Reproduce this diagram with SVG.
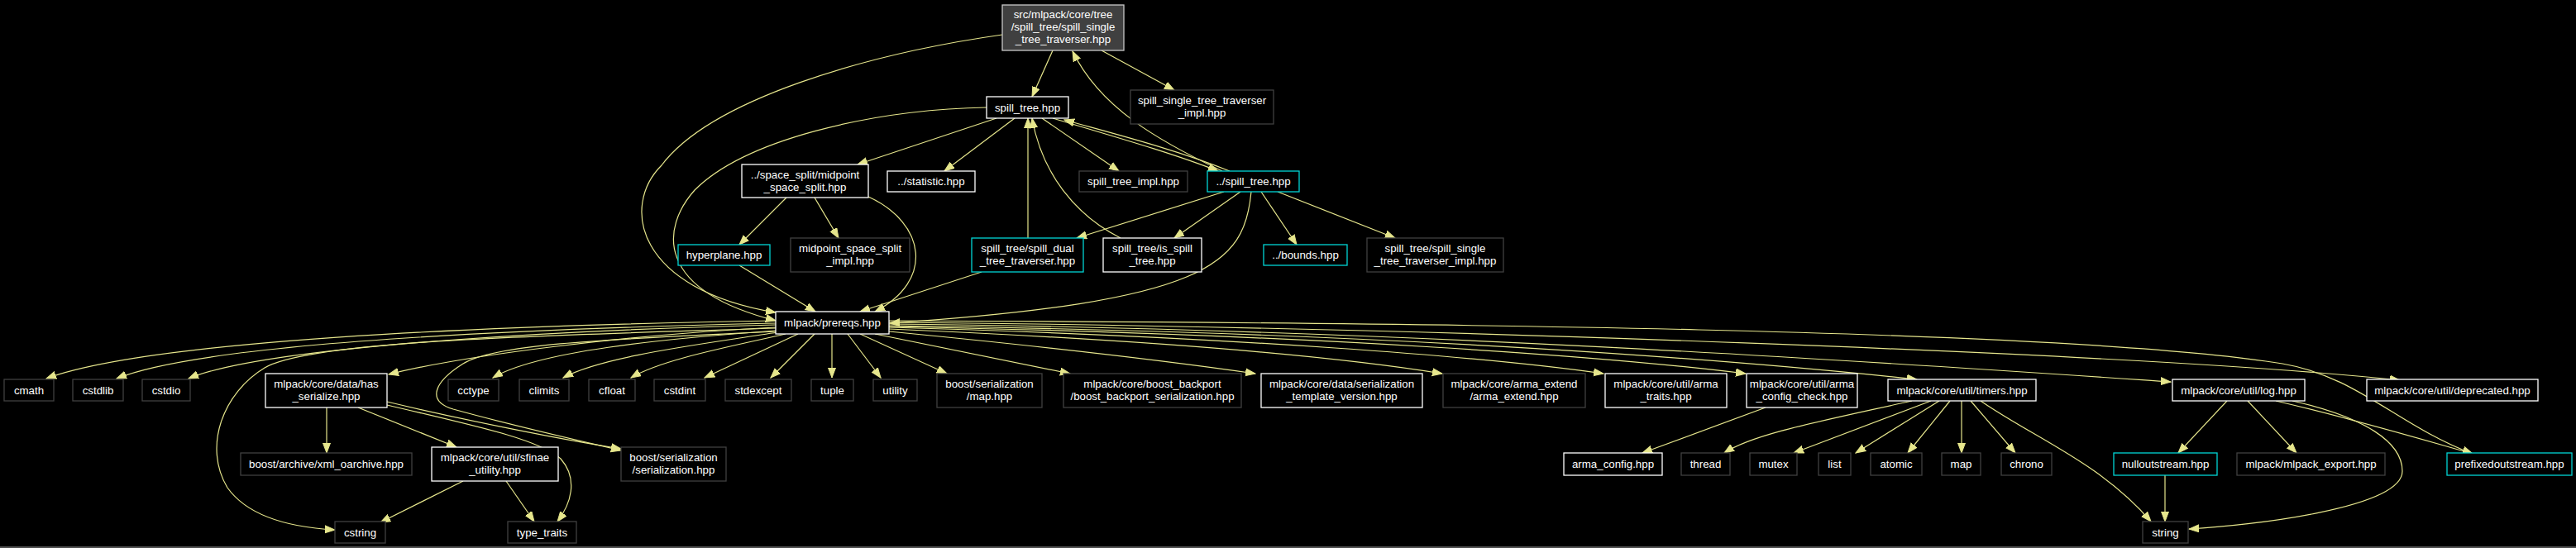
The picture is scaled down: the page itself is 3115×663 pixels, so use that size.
<svg xmlns="http://www.w3.org/2000/svg" width="3115" height="663" viewBox="0 0 3115 663">
<style>
  .bg{fill:#000}
  rect.d{fill:#000;stroke:#ffffff;stroke-width:1.3}
  rect.x{fill:#000;stroke:#404040;stroke-width:1.3}
  rect.c{fill:#000;stroke:#00d4d4;stroke-width:1.3}
  rect.r{fill:#404040;stroke:#c8c8c8;stroke-width:1.3}
  text{font-family:"Liberation Sans",Arial,Helvetica,sans-serif;font-size:13.3px;fill:#fff;text-anchor:middle}
  #edges path{fill:none;stroke:#e6e68c;stroke-width:1.2;marker-end:url(#ah)}
</style>
<defs>
  <marker id="ah" markerWidth="13" markerHeight="11" refX="12" refY="5" orient="auto" markerUnits="userSpaceOnUse">
    <path d="M0,0.5 L12,5 L0,9.5 z" fill="#e6e68c" stroke="#e6e68c" stroke-width="1"/>
  </marker>
</defs>
<rect class="bg" x="0" y="0" width="3115" height="663"/>
<rect x="0" y="661" width="3115" height="2" fill="#505050"/>

<g id="edges">
  <path d="M1273,61 L1248,117"/>
  <path d="M1332,61 L1420,109"/>
  <path d="M1212,42 C1050,65 860,120 800,200 C750,250 770,350 938,378"/>
  <path d="M1193,130 C1050,133 900,170 840,230 C800,275 790,350 938,388"/>
  <path d="M1205,143 L1037,199"/>
  <path d="M1227,143 L1142,207"/>
  <path d="M1260,143 L1353,207"/>
  <path d="M1273,143 C1350,166 1420,186 1473,207"/>
  <path d="M1487,207 C1420,180 1340,160 1287,145"/>
  <path d="M1478,207 C1400,170 1330,130 1297,62"/>
  <path d="M1243,288 L1243,143"/>
  <path d="M1355,288 C1300,260 1260,210 1248,143"/>
  <path d="M1480,232 L1302,288"/>
  <path d="M1500,232 L1420,288"/>
  <path d="M1525,232 L1568,296"/>
  <path d="M1545,232 L1687,288"/>
  <path d="M1513,232 C1505,320 1460,365 1076,391"/>
  <path d="M951,239 L894,296"/>
  <path d="M985,239 L1014,288"/>
  <path d="M1050,238 C1120,270 1130,340 1058,377"/>
  <path d="M894,321 L986,377"/>
  <path d="M1187,329 L1040,377"/>
  <path d="M938,388 C700,392 200,405 56,458"/>
  <path d="M938,391 C720,396 260,410 141,458"/>
  <path d="M938,393 C740,398 330,415 228,458"/>
  <path d="M938,396 C760,405 560,430 470,453"/>
  <path d="M938,397 C700,405 380,410 320,445 C270,475 245,540 275,590 C300,625 350,638 405,641"/>
  <path d="M938,400 C800,410 650,425 596,457"/>
  <path d="M938,401 C750,410 600,415 560,440 C525,462 515,485 548,495 C620,515 700,533 751,545"/>
  <path d="M940,402 C860,415 730,430 681,457"/>
  <path d="M950,404 C880,420 800,435 763,457"/>
  <path d="M965,404 L852,457"/>
  <path d="M985,404 L932,457"/>
  <path d="M1006,404 L1006,457"/>
  <path d="M1025,404 L1065,457"/>
  <path d="M1040,404 L1145,452"/>
  <path d="M1058,404 L1294,452"/>
  <path d="M1075,401 C1250,418 1400,435 1518,452"/>
  <path d="M1075,398 C1400,412 1620,432 1744,452"/>
  <path d="M1075,396 C1500,408 1800,432 1939,452"/>
  <path d="M1075,395 C1600,405 1950,432 2111,452"/>
  <path d="M1075,394 C1700,402 2120,438 2318,459"/>
  <path d="M1075,392 C1700,398 2300,440 2625,462"/>
  <path d="M1075,390 C1700,395 2600,428 2902,460"/>
  <path d="M1075,388 C1700,390 2500,398 2760,440 C2850,455 2900,515 2990,549"/>
  <path d="M395,493 L395,548"/>
  <path d="M433,493 L552,541"/>
  <path d="M468,486 C560,508 680,532 751,543"/>
  <path d="M468,490 C560,512 650,530 678,555 C700,580 690,610 674,631"/>
  <path d="M560,582 L460,632"/>
  <path d="M612,582 L646,631"/>
  <path d="M2135,493 L1986,548"/>
  <path d="M2312,485 C2200,510 2120,525 2085,548"/>
  <path d="M2335,485 L2169,548"/>
  <path d="M2345,485 L2244,548"/>
  <path d="M2358,485 L2307,548"/>
  <path d="M2372,485 L2372,548"/>
  <path d="M2383,485 L2437,548"/>
  <path d="M2395,485 C2460,530 2540,560 2601,631"/>
  <path d="M2693,485 L2634,548"/>
  <path d="M2718,485 L2777,548"/>
  <path d="M2752,485 C2850,508 2930,532 2990,549"/>
  <path d="M2772,485 C2860,505 2905,535 2905,570 C2905,615 2720,636 2647,640"/>
  <path d="M2618,575 L2618,631"/>
</g>

<g id="n_root"><rect class="r" x="1212" y="6" width="147" height="55"/><text x="1285.5" y="22">src/mlpack/core/tree</text><text x="1285.5" y="37">/spill_tree/spill_single</text><text x="1285.5" y="52">_tree_traverser.hpp</text></g>
<g id="n_spill_tree"><rect class="d" x="1193" y="117" width="99" height="26"/><text x="1242.5" y="134.5">spill_tree.hpp</text></g>
<g id="n_sst_impl_top"><rect class="x" x="1367" y="109" width="173" height="41"/><text x="1453.5" y="126">spill_single_tree_traverser</text><text x="1453.5" y="141">_impl.hpp</text></g>
<g id="n_midpoint"><rect class="d" x="897" y="199" width="153" height="40"/><text x="973.5" y="216">../space_split/midpoint</text><text x="973.5" y="231">_space_split.hpp</text></g>
<g id="n_statistic"><rect class="d" x="1073" y="207" width="106" height="25"/><text x="1126" y="224">../statistic.hpp</text></g>
<g id="n_spill_tree_impl"><rect class="x" x="1305" y="207" width="131" height="25"/><text x="1370.5" y="224">spill_tree_impl.hpp</text></g>
<g id="n_dd_spill_tree"><rect class="c" x="1460" y="207" width="111" height="25"/><text x="1515.5" y="224">../spill_tree.hpp</text></g>
<g id="n_hyperplane"><rect class="c" x="820" y="296" width="111" height="25"/><text x="875.5" y="313">hyperplane.hpp</text></g>
<g id="n_midpoint_impl"><rect class="x" x="956" y="288" width="144" height="41"/><text x="1028" y="305">midpoint_space_split</text><text x="1028" y="320">_impl.hpp</text></g>
<g id="n_spill_dual"><rect class="c" x="1175" y="288" width="135" height="41"/><text x="1242.5" y="305">spill_tree/spill_dual</text><text x="1242.5" y="320">_tree_traverser.hpp</text></g>
<g id="n_is_spill"><rect class="d" x="1334" y="288" width="119" height="41"/><text x="1393.5" y="305">spill_tree/is_spill</text><text x="1393.5" y="320">_tree.hpp</text></g>
<g id="n_bounds"><rect class="c" x="1528" y="296" width="101" height="25"/><text x="1578.5" y="313">../bounds.hpp</text></g>
<g id="n_sst_impl_low"><rect class="x" x="1653" y="288" width="165" height="41"/><text x="1735.5" y="305">spill_tree/spill_single</text><text x="1735.5" y="320">_tree_traverser_impl.hpp</text></g>
<g id="n_prereqs"><rect class="d" x="938" y="377" width="137" height="27"/><text x="1006.5" y="395">mlpack/prereqs.hpp</text></g>

<g id="n_cmath"><rect class="x" x="5" y="459" width="60" height="26"/><text x="35" y="476.5">cmath</text></g>
<g id="n_cstdlib"><rect class="x" x="88" y="459" width="61" height="26"/><text x="118.5" y="476.5">cstdlib</text></g>
<g id="n_cstdio"><rect class="x" x="172" y="459" width="58" height="26"/><text x="201" y="476.5">cstdio</text></g>
<g id="n_has_serialize"><rect class="d" x="321" y="452" width="147" height="41"/><text x="394.5" y="469">mlpack/core/data/has</text><text x="394.5" y="484">_serialize.hpp</text></g>
<g id="n_cctype"><rect class="x" x="542" y="459" width="61" height="26"/><text x="572.5" y="476.5">cctype</text></g>
<g id="n_climits"><rect class="x" x="628" y="459" width="60" height="26"/><text x="658" y="476.5">climits</text></g>
<g id="n_cfloat"><rect class="x" x="712" y="459" width="56" height="26"/><text x="740" y="476.5">cfloat</text></g>
<g id="n_cstdint"><rect class="x" x="791" y="459" width="62" height="26"/><text x="822" y="476.5">cstdint</text></g>
<g id="n_stdexcept"><rect class="x" x="877" y="459" width="80" height="26"/><text x="917" y="476.5">stdexcept</text></g>
<g id="n_tuple"><rect class="x" x="981" y="459" width="51" height="26"/><text x="1006.5" y="476.5">tuple</text></g>
<g id="n_utility"><rect class="x" x="1056" y="459" width="53" height="26"/><text x="1082.5" y="476.5">utility</text></g>
<g id="n_map_hpp"><rect class="x" x="1133" y="452" width="127" height="41"/><text x="1196.5" y="469">boost/serialization</text><text x="1196.5" y="484">/map.hpp</text></g>
<g id="n_boost_backport"><rect class="x" x="1286" y="452" width="215" height="41"/><text x="1393.5" y="469">mlpack/core/boost_backport</text><text x="1393.5" y="484">/boost_backport_serialization.hpp</text></g>
<g id="n_template_version"><rect class="d" x="1525" y="452" width="195" height="41"/><text x="1622.5" y="469">mlpack/core/data/serialization</text><text x="1622.5" y="484">_template_version.hpp</text></g>
<g id="n_arma_extend"><rect class="x" x="1745" y="452" width="172" height="41"/><text x="1831" y="469">mlpack/core/arma_extend</text><text x="1831" y="484">/arma_extend.hpp</text></g>
<g id="n_arma_traits"><rect class="d" x="1941" y="452" width="147" height="41"/><text x="2014.5" y="469">mlpack/core/util/arma</text><text x="2014.5" y="484">_traits.hpp</text></g>
<g id="n_arma_config_check"><rect class="d" x="2112" y="452" width="134" height="41"/><text x="2179" y="469">mlpack/core/util/arma</text><text x="2179" y="484">_config_check.hpp</text></g>
<g id="n_timers"><rect class="d" x="2283" y="459" width="179" height="26"/><text x="2372.5" y="476.5">mlpack/core/util/timers.hpp</text></g>
<g id="n_log"><rect class="d" x="2627" y="459" width="160" height="26"/><text x="2707" y="476.5">mlpack/core/util/log.hpp</text></g>
<g id="n_deprecated"><rect class="d" x="2862" y="459" width="207" height="26"/><text x="2965.5" y="476.5">mlpack/core/util/deprecated.hpp</text></g>

<g id="n_xml_oarchive"><rect class="x" x="291" y="548" width="207" height="27"/><text x="394.5" y="566">boost/archive/xml_oarchive.hpp</text></g>
<g id="n_sfinae"><rect class="d" x="522" y="541" width="153" height="41"/><text x="598.5" y="558">mlpack/core/util/sfinae</text><text x="598.5" y="573">_utility.hpp</text></g>
<g id="n_serialization"><rect class="x" x="751" y="541" width="127" height="41"/><text x="814.5" y="558">boost/serialization</text><text x="814.5" y="573">/serialization.hpp</text></g>
<g id="n_arma_config"><rect class="d" x="1891" y="548" width="119" height="27"/><text x="1950.5" y="566">arma_config.hpp</text></g>
<g id="n_thread"><rect class="x" x="2033" y="548" width="59" height="27"/><text x="2062.5" y="566">thread</text></g>
<g id="n_mutex"><rect class="x" x="2116" y="548" width="57" height="27"/><text x="2144.5" y="566">mutex</text></g>
<g id="n_list"><rect class="x" x="2199" y="548" width="39" height="27"/><text x="2218.5" y="566">list</text></g>
<g id="n_atomic"><rect class="x" x="2262" y="548" width="62" height="27"/><text x="2293" y="566">atomic</text></g>
<g id="n_map"><rect class="x" x="2348" y="548" width="47" height="27"/><text x="2371.5" y="566">map</text></g>
<g id="n_chrono"><rect class="x" x="2420" y="548" width="61" height="27"/><text x="2450.5" y="566">chrono</text></g>
<g id="n_nulloutstream"><rect class="c" x="2556" y="548" width="125" height="27"/><text x="2618.5" y="566">nulloutstream.hpp</text></g>
<g id="n_mlpack_export"><rect class="x" x="2705" y="548" width="179" height="27"/><text x="2794.5" y="566">mlpack/mlpack_export.hpp</text></g>
<g id="n_prefixedoutstream"><rect class="c" x="2959" y="548" width="151" height="27"/><text x="3034.5" y="566">prefixedoutstream.hpp</text></g>

<g id="n_cstring"><rect class="x" x="405" y="631" width="61" height="26"/><text x="435.5" y="648.5">cstring</text></g>
<g id="n_type_traits"><rect class="x" x="614" y="631" width="83" height="26"/><text x="655.5" y="648.5">type_traits</text></g>
<g id="n_string"><rect class="x" x="2591" y="631" width="55" height="26"/><text x="2618.5" y="648.5">string</text></g>
</svg>
